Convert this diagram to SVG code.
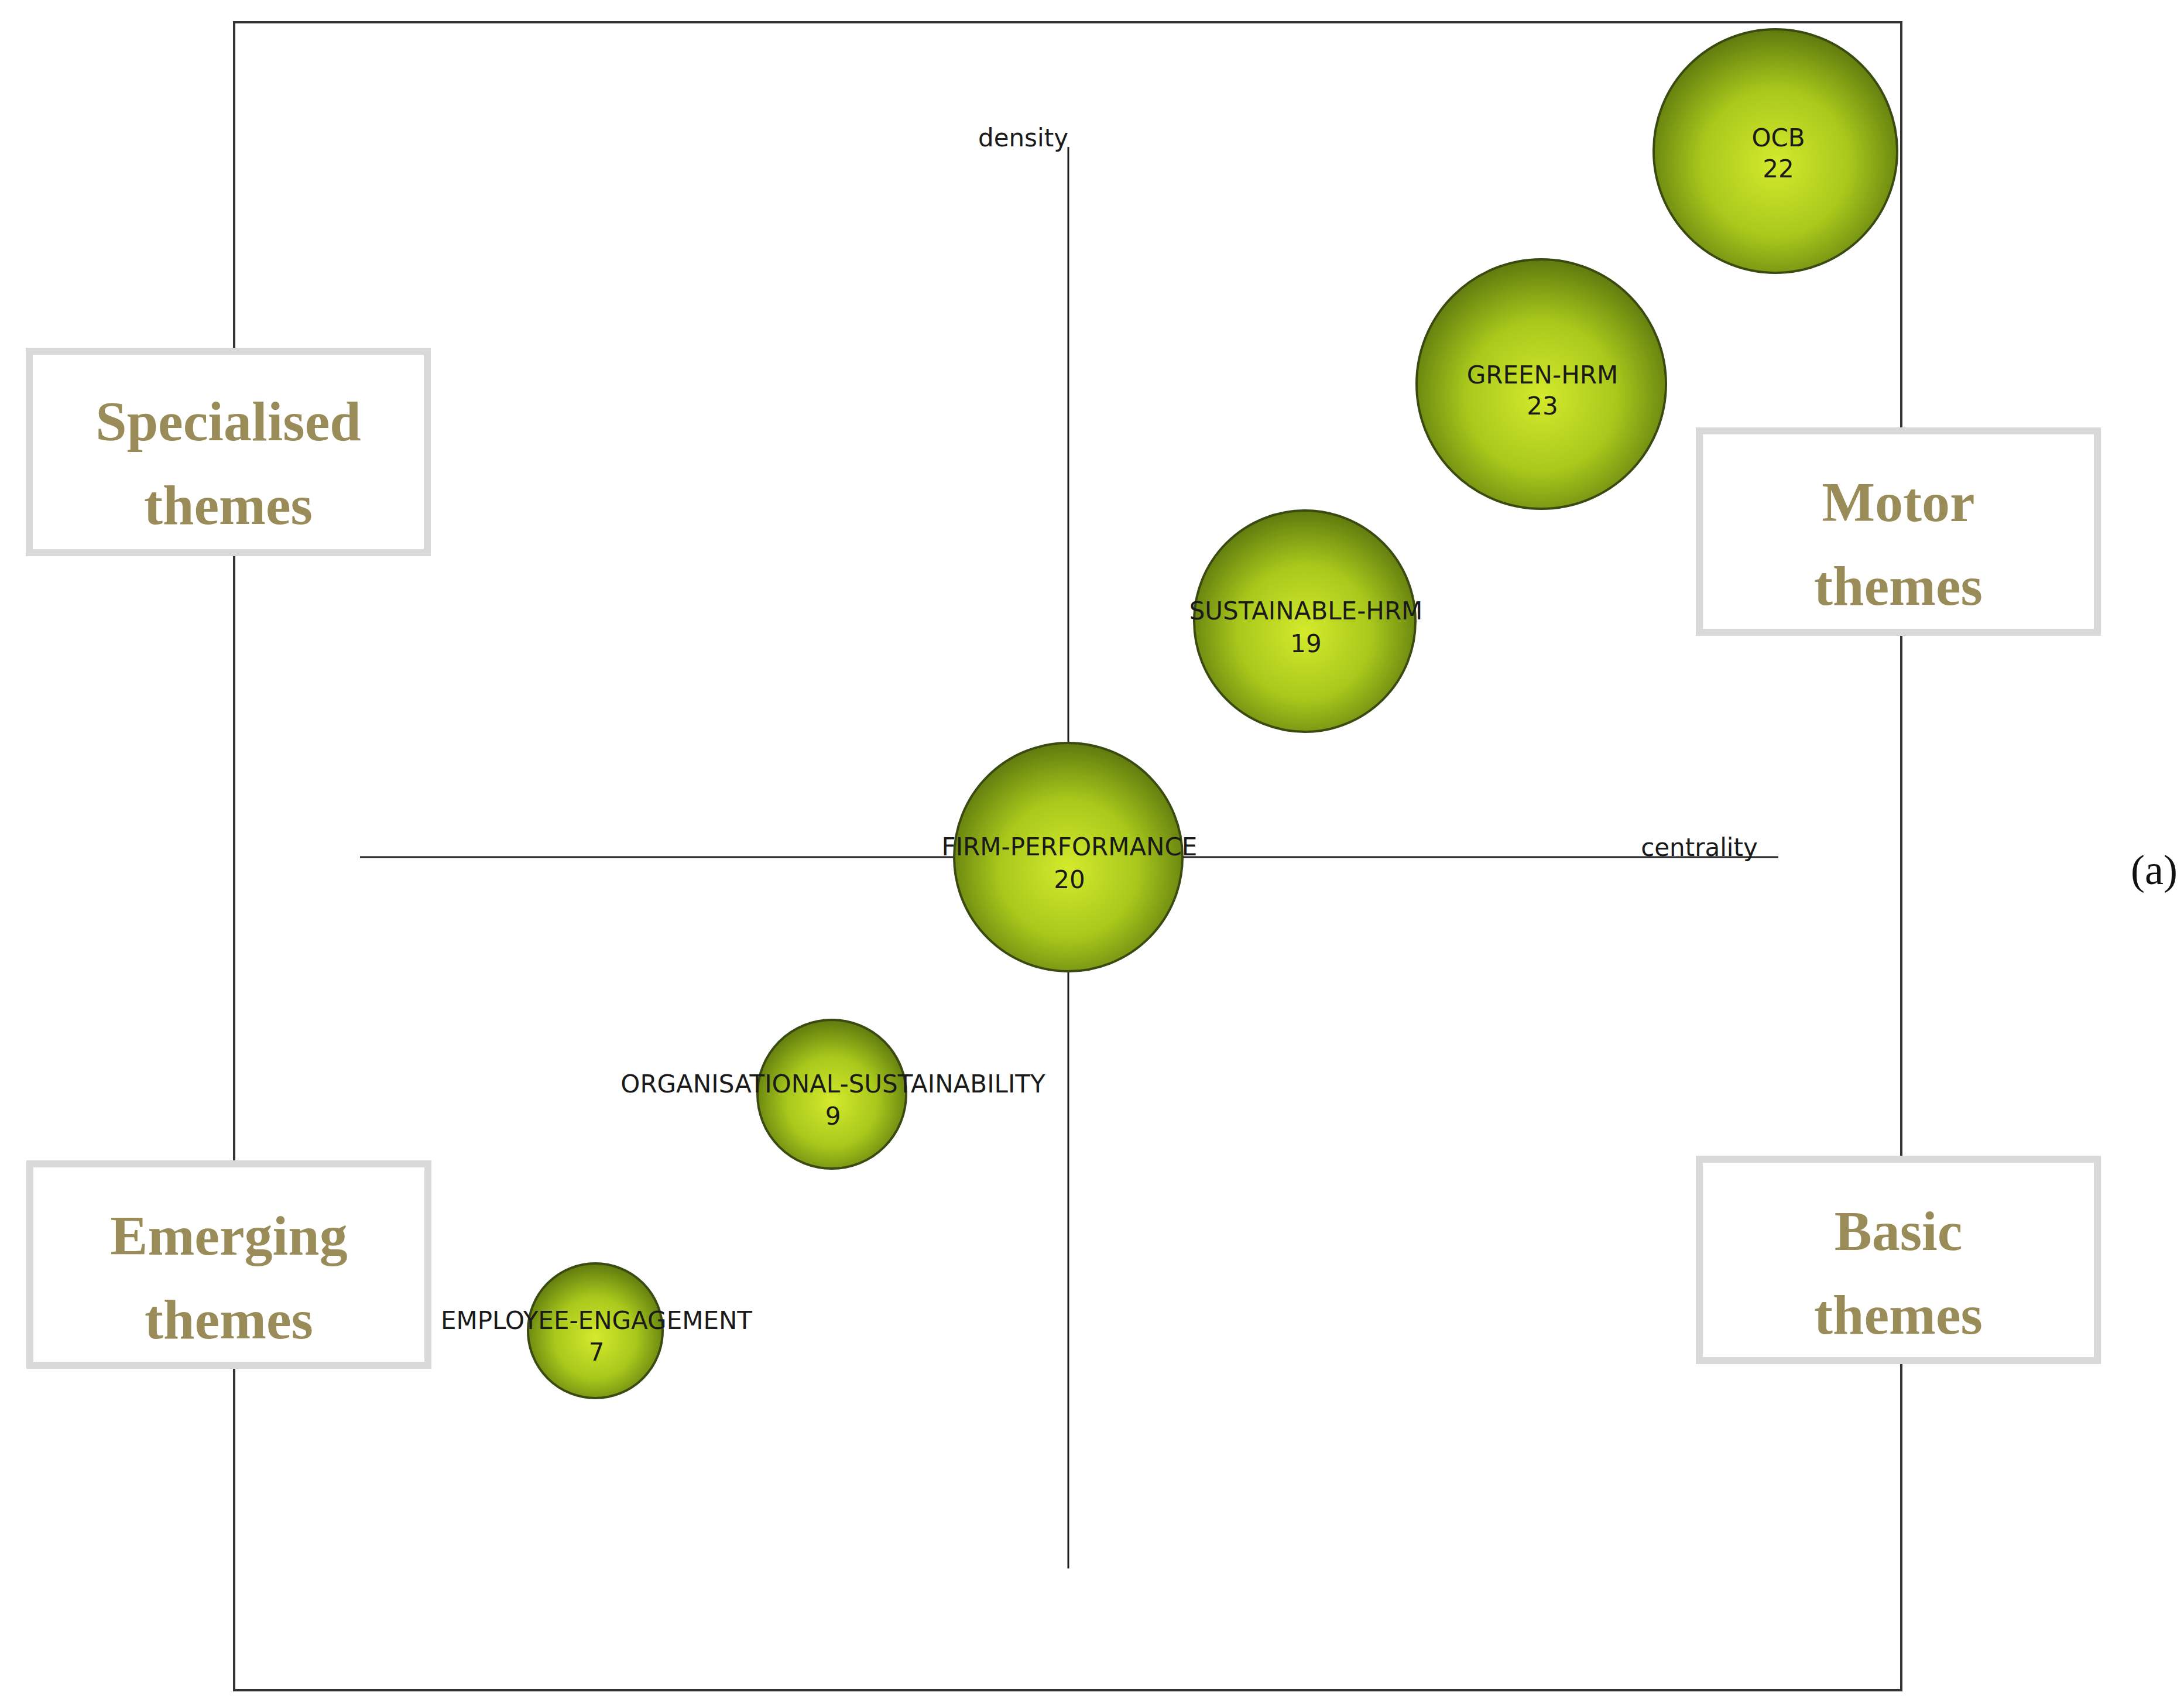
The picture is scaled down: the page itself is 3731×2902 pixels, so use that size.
<svg xmlns="http://www.w3.org/2000/svg" width="3731" height="2902" viewBox="0 0 3731 2902">
<defs>
<radialGradient id="g" cx="0.5" cy="0.55" r="0.55">
<stop offset="0" stop-color="#d4ea2c"/>
<stop offset="0.55" stop-color="#a8c81c"/>
<stop offset="1" stop-color="#5f7a0e"/>
</radialGradient>
<style>
.b{fill:url(#g);stroke:#3a4a10;stroke-width:4}
.l{font-family:"DejaVu Sans",sans-serif;font-size:42px;fill:#1a1a1a;text-anchor:middle}
.box{fill:#fff;stroke:#d9d9d9;stroke-width:12}
.q{font-family:"Liberation Serif",serif;font-weight:bold;font-size:96px;fill:#9a8c58;text-anchor:middle}
.ax{stroke:#222;stroke-width:3;fill:none}
</style>
</defs>
<rect width="3731" height="2902" fill="#fff"/>
<rect x="400" y="38" width="2848" height="2849" fill="none" stroke="#333" stroke-width="4"/>
<g id="connectors">
<line class="ax" x1="1825" y1="251" x2="1825" y2="2679"/>
<line class="ax" x1="615" y1="1464" x2="3038" y2="1464"/>
</g>
<text class="l" x="1748" y="250">density</text>
<text class="l" x="2903" y="1462">centrality</text>
<g id="ocb"><circle class="b" cx="3033" cy="258" r="208"/><text class="l" x="3038" y="250">OCB</text><text class="l" x="3038" y="303">22</text></g>
<g id="green"><circle class="b" cx="2633" cy="656" r="213"/><text class="l" x="2635" y="655">GREEN-HRM</text><text class="l" x="2635" y="708">23</text></g>
<g id="sust"><circle class="b" cx="2229" cy="1061" r="189"/><text class="l" x="2231" y="1058">SUSTAINABLE-HRM</text><text class="l" x="2231" y="1114">19</text></g>
<g id="firm"><circle class="b" cx="1825" cy="1464" r="195"/><text class="l" x="1827" y="1461">FIRM-PERFORMANCE</text><text class="l" x="1827" y="1517">20</text></g>
<g id="org"><circle class="b" cx="1421" cy="1869" r="127"/><text class="l" x="1423" y="1866">ORGANISATIONAL-SUSTAINABILITY</text><text class="l" x="1423" y="1921">9</text></g>
<g id="emp"><circle class="b" cx="1017" cy="2273" r="115"/><text class="l" x="1019" y="2270">EMPLOYEE-ENGAGEMENT</text><text class="l" x="1019" y="2324">7</text></g>
<g id="specialised"><rect class="box" x="50" y="600" width="680" height="344"/><text class="q" x="390" y="752">Specialised</text><text class="q" x="390" y="895">themes</text></g>
<g id="motor"><rect class="box" x="2903" y="736" width="680" height="344"/><text class="q" x="3243" y="890">Motor</text><text class="q" x="3243" y="1033">themes</text></g>
<g id="emerging"><rect class="box" x="51" y="1988" width="680" height="344"/><text class="q" x="391" y="2143">Emerging</text><text class="q" x="391" y="2286">themes</text></g>
<g id="basic"><rect class="box" x="2903" y="1980" width="680" height="344"/><text class="q" x="3243" y="2135">Basic</text><text class="q" x="3243" y="2278">themes</text></g>
<text x="3680" y="1510" font-family="Liberation Serif,serif" font-size="72" fill="#111" text-anchor="middle">(a)</text>
</svg>
